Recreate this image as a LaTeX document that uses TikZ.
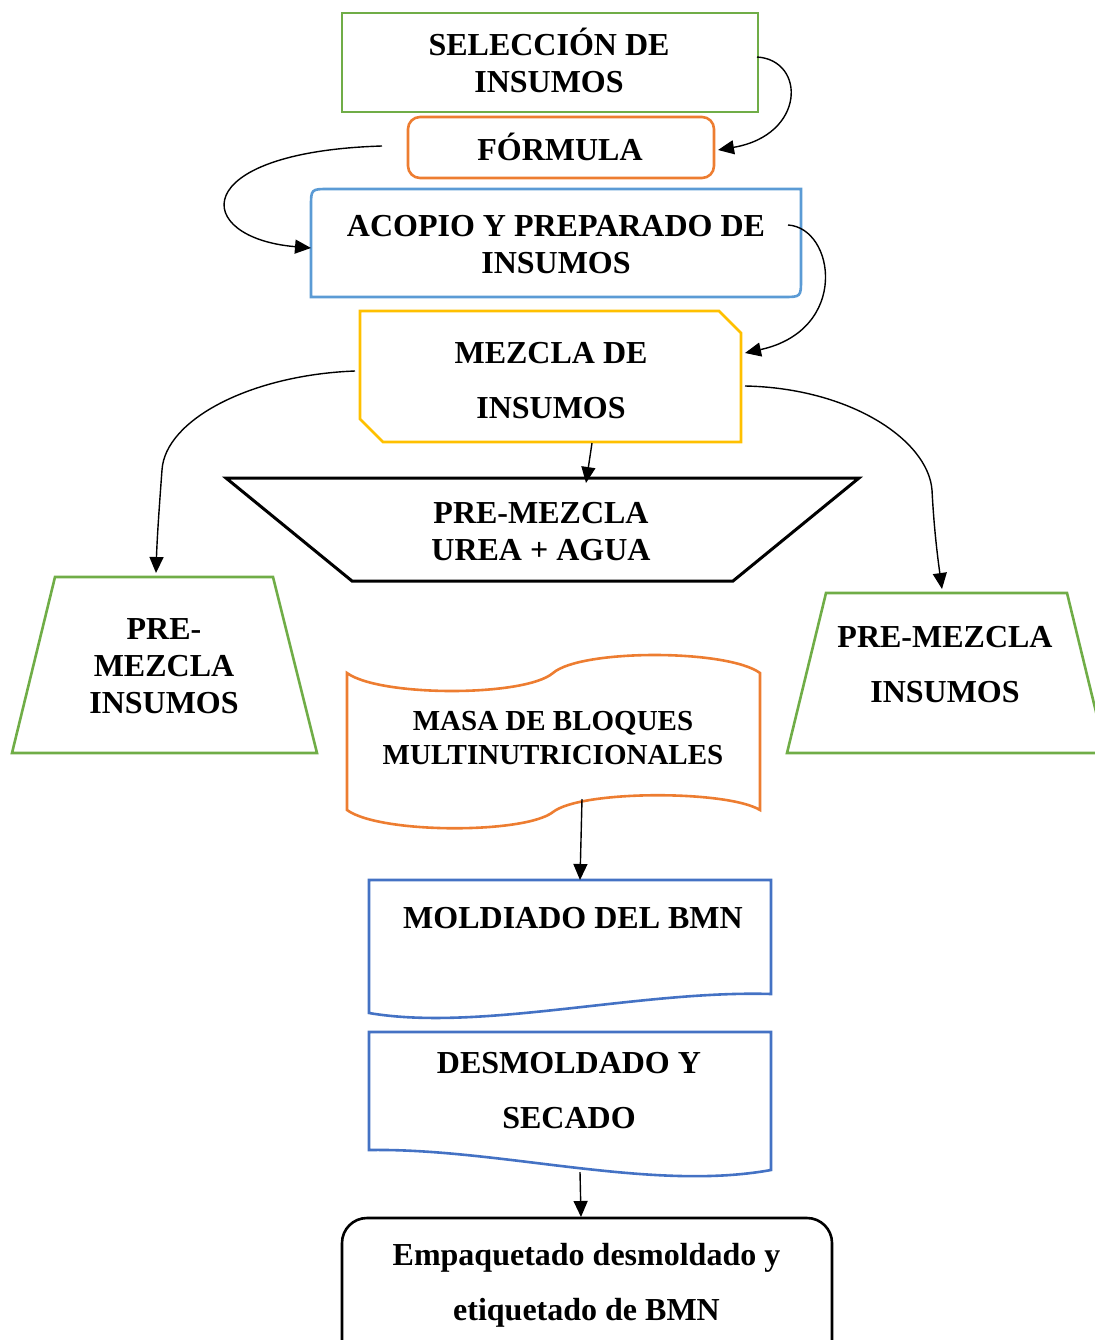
\documentclass[tikz,border=0pt]{standalone}
\usepackage{fontspec}
\setmainfont{Liberation Serif}
\usetikzlibrary{arrows.meta}
\definecolor{cgreen}{HTML}{70AD47}
\definecolor{corange}{HTML}{ED7D31}
\definecolor{cblueA}{HTML}{5B9BD5}
\definecolor{cblueB}{HTML}{4472C4}
\definecolor{cyellow}{HTML}{FFC000}
\begin{document}
\begin{tikzpicture}[x=1pt,y=-1pt,
  box/.style={line width=2.6pt, line join=miter},
  lbl/.style={font=\fontsize{32}{37}\selectfont\bfseries, align=center, inner sep=0pt},
  conn/.style={line width=1.4pt, -{Triangle[length=16pt,width=14pt]}}]
\useasboundingbox (0,0) rectangle (1094,1340);

% shapes
\draw[box, cgreen] (342,13) rectangle (758,112);
\draw[box, corange, rounded corners=12pt] (408,117) rectangle (714,178);
\draw[box, cblueA] (311,297) -- (311,207) .. controls (311,189) .. (329,189) -- (801,189) -- (801,279) .. controls (801,297) .. (783,297) -- cycle;
\draw[box, cyellow] (360,311) -- (719,311) -- (741,333) -- (741,442) -- (383,442) -- (360,419) -- cycle;
\draw[line width=3pt, line join=miter] (226,478) -- (859,478) -- (733,581) -- (352,581) -- cycle;
\draw[box, cgreen] (55,577) -- (273,577) -- (317,753) -- (12,753) -- cycle;
\draw[box, cgreen] (826,593) -- (1067,593) -- (1106,753) -- (787,753) -- cycle;
\draw[box, corange] (347,673) .. controls (380,697) and (525,697) .. (553,673) .. controls (581,649) and (727,649) .. (760,673)
   -- (760,810) .. controls (727,790) and (581,790) .. (553,812) .. controls (525,834) and (380,834) .. (347,810) -- cycle;
\draw[box, cblueB] (369,880) -- (771,880) -- (771,994) .. controls (640,990) and (480,1032) .. (369,1013) -- cycle;
\draw[box, cblueB] (369,1032) -- (771,1032) -- (771,1170) .. controls (650,1192) and (500,1148) .. (369,1150) -- cycle;
\draw[box, rounded corners=25pt] (342,1218) rectangle (832,1380);

% labels
\node[lbl] (sel) at (549,60.5) {SELECCIÓN DE\\INSUMOS};
\node[lbl, anchor=base] (form) at (560,161) {FÓRMULA};
\node[lbl] (aco) at (556,244.5) {ACOPIO Y PREPARADO DE\\INSUMOS};
\node[lbl] (mez) at (551,380.5) {MEZCLA DE\\[18pt]INSUMOS};
\node[lbl] (urea) at (541,531.5) {PRE-MEZCLA\\UREA + AGUA};
\node[lbl] (pmL) at (164,666.5) {PRE-\\MEZCLA\\INSUMOS};
\node[lbl] (pmR) at (945,664.5) {PRE-MEZCLA\\[18pt]INSUMOS};
\node[lbl, font=\fontsize{29}{34}\selectfont\bfseries] (masa) at (553,738) {MASA DE BLOQUES\\MULTINUTRICIONALES};
\node[lbl, anchor=base] (mold) at (573,928) {MOLDIADO DEL BMN};
\node[lbl] (desm) at (569,1090.5) {DESMOLDADO Y\\[18pt]SECADO};
\node[lbl] (emp) at (586.5,1285) {Empaquetado desmoldado y\\[18pt]etiquetado de BMN};

% connector end points
\coordinate (selR) at (757,57);
\coordinate (formR) at (718,150);
\coordinate (formL) at (382,146);
\coordinate (acoL) at (311,248);
\coordinate (acoR) at (788,225);
\coordinate (mezR) at (745,353);
\coordinate (mezB) at (592,443);
\coordinate (ureaT) at (586,483);
\coordinate (mezL) at (355,371);
\coordinate (pmLT) at (156,573);
\coordinate (mezR2) at (745,386);
\coordinate (pmRT) at (942,589);
\coordinate (masaB) at (582,799);
\coordinate (moldT) at (580,880);
\coordinate (desmB) at (580,1172);
\coordinate (empT) at (581,1217);

% connectors
\draw[conn] (selR) .. controls (806,60) and (806,135) .. (formR);
\draw[conn] (formL) .. controls (185,152) and (192,238) .. (acoL);
\draw[conn] (acoR) .. controls (835,228) and (850,330) .. (mezR);
\draw[conn] (mezB) -- (ureaT);
\draw[conn] (mezL) .. controls (250,375) and (165,420) .. (162,470) .. controls (159,510) and (157,540) .. (pmLT);
\draw[conn] (mezR2) .. controls (850,388) and (928,440) .. (932,490) .. controls (934,530) and (938,560) .. (pmRT);
\draw[conn] (masaB) -- (moldT);
\draw[conn] (desmB) -- (empT);
\end{tikzpicture}
\end{document}
